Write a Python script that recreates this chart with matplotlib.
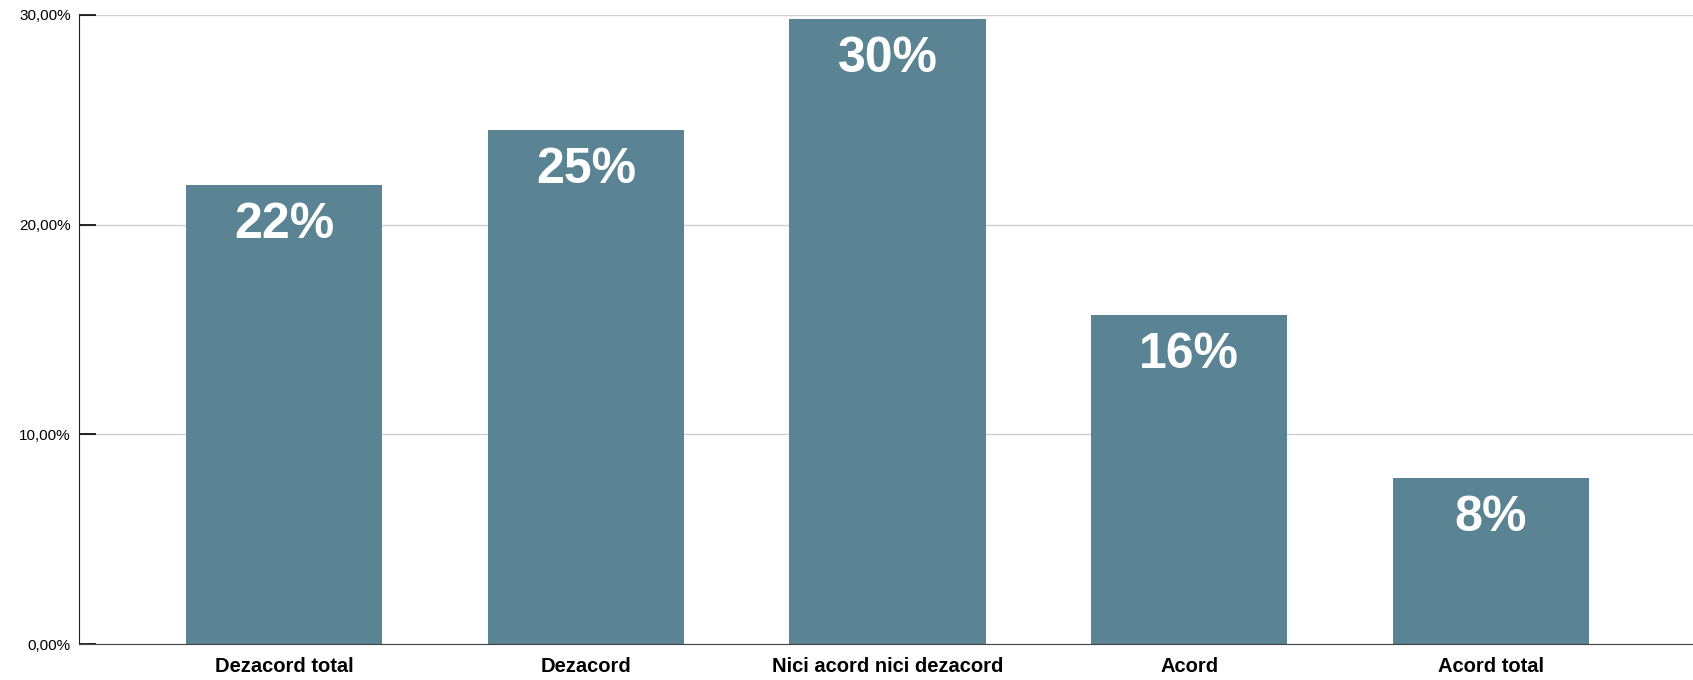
import matplotlib.pyplot as plt
from matplotlib.ticker import FuncFormatter

# Date
categorii = ['Dezacord total', 'Dezacord', 'Nici acord nici dezacord', 'Acord', 'Acord total']
procente = [21.9, 24.5, 29.8, 15.7, 7.9]
etichete = ['22%', '25%', '30%', '16%', '8%']

plt.rcParams['font.family'] = ['Liberation Sans', 'DejaVu Sans']

fig = plt.figure(figsize=(16.93, 6.8), dpi=100)
ax = fig.add_axes([79 / 1693, 1 - 644 / 680, 1 - 79 / 1693, (644 - 15) / 680])

x = range(len(categorii))
bare = ax.bar(x, procente, width=0.65, color='#5a8394', zorder=2)

for b, et in zip(bare, etichete):
    ax.annotate(et, (b.get_x() + b.get_width() / 2, b.get_height()),
                xytext=(0, -40), textcoords='offset pixels',
                ha='center', va='center', color='white',
                fontsize=36, fontweight='heavy')

ax.set_ylim(0, 30)
ax.set_xlim(-0.68, 4.67)
ax.set_yticks([0, 10, 20, 30])
ax.yaxis.set_major_formatter(FuncFormatter(lambda v, p: f'{v:.2f}%'.replace('.', ',')))
ax.set_xticks(list(x))
ax.set_xticklabels(categorii, fontweight='bold', fontsize=14.5)

ax.grid(axis='y', color='#d0d0d0', linewidth=1, zorder=0)
ax.tick_params(axis='y', direction='in', length=12, width=1.2, labelsize=11, pad=6)
ax.tick_params(axis='x', length=0, pad=9)

ax.spines['top'].set_visible(False)
ax.spines['right'].set_visible(False)
ax.spines['left'].set_color('#222222')
ax.spines['bottom'].set_color('#444444')

plt.savefig('out.png', dpi=100)
